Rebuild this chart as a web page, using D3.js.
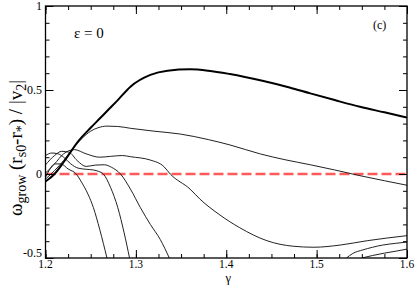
<!DOCTYPE html>
<html><head><meta charset="utf-8">
<script src="https://cdn.jsdelivr.net/npm/d3@7"></script>
<style>body{margin:0;background:#fff}svg{display:block}</style>
</head><body>
<svg id="c" width="415" height="286" font-family="'Liberation Serif', 'DejaVu Serif', serif"></svg>
<script>
// ---- data ----
const xTicks = [1.2, 1.3, 1.4, 1.5, 1.6];
const yTicks = [-0.5, 0, 0.5, 1];
const xTickLabels = ["1.2", "1.3", "1.4", "1.5", "1.6"];
const yTickLabels = ["-0.5", "0", "0.5", "1"];

const gammaThick = [1.2, 1.21, 1.22, 1.237, 1.25, 1.26, 1.27, 1.28, 1.294, 1.316, 1.335, 1.36, 1.38, 1.404, 1.44, 1.47, 1.493, 1.52, 1.548, 1.575, 1.6];
const valThick   = [-0.045, 0.0, 0.07, 0.2, 0.275, 0.33, 0.385, 0.44, 0.52, 0.59, 0.615, 0.623, 0.615, 0.595, 0.555, 0.515, 0.48, 0.44, 0.40, 0.367, 0.336];

const gammaA = [1.2, 1.21, 1.22, 1.23, 1.24, 1.25, 1.258, 1.268, 1.28, 1.294, 1.32, 1.349, 1.38, 1.404, 1.438, 1.465, 1.493, 1.52, 1.548, 1.575, 1.6];
const valA   = [-0.03, 0.02, 0.08, 0.15, 0.21, 0.255, 0.275, 0.285, 0.283, 0.272, 0.255, 0.238, 0.205, 0.173, 0.119, 0.085, 0.055, 0.024, -0.01, -0.04, -0.067];

const gammaB = [1.2, 1.21, 1.22, 1.232, 1.245, 1.26, 1.272, 1.285, 1.294, 1.316, 1.331, 1.338, 1.36, 1.371, 1.393, 1.415, 1.445, 1.474, 1.497, 1.526, 1.556, 1.6];
const valB   = [0.005, 0.06, 0.12, 0.145, 0.12, 0.1, 0.105, 0.11, 0.103, 0.083, 0.044, 0.0, -0.09, -0.15, -0.244, -0.32, -0.397, -0.43, -0.436, -0.423, -0.397, -0.367];

const gammaC = [1.2, 1.21, 1.218, 1.226, 1.235, 1.245, 1.255, 1.265, 1.273, 1.283, 1.294, 1.305, 1.316, 1.327, 1.337];
const valC   = [0.054, 0.11, 0.135, 0.13, 0.08, 0.045, 0.053, 0.055, 0.04, 0.0, -0.09, -0.2, -0.3, -0.39, -0.5];

const gammaD = [1.2, 1.207, 1.214, 1.22, 1.228, 1.236, 1.245, 1.253, 1.259, 1.264, 1.272, 1.28, 1.287, 1.293];
const valD   = [0.11, 0.125, 0.12, 0.1, 0.06, 0.035, 0.028, 0.024, 0.015, 0.0, -0.08, -0.2, -0.35, -0.5];

const gammaE = [1.2, 1.205, 1.21, 1.217, 1.225, 1.234, 1.24, 1.247, 1.253, 1.26, 1.268];
const valE   = [-0.02, 0.03, 0.06, 0.06, 0.03, 0.0, -0.05, -0.12, -0.2, -0.33, -0.5];

const gammaF = [1.533, 1.54, 1.551, 1.562, 1.573, 1.587, 1.6];
const valF   = [-0.5, -0.473, -0.452, -0.436, -0.423, -0.413, -0.405];

const gammaG = [1.55, 1.562, 1.575, 1.588, 1.6];
const valG   = [-0.5, -0.485, -0.471, -0.459, -0.447];

const zeroLine = [1.2, 1.6];

// ---- layout ----
const svg = d3.select("#c");
const L = 45.5, R = 407, T = 6, B = 258;
const x = d3.scaleLinear().domain([1.2, 1.6]).range([L, R]);
const y = d3.scaleLinear().domain([-0.5, 1]).range([B, T]);

svg.append("defs").append("clipPath").attr("id", "clip")
  .append("rect").attr("x", L).attr("y", T).attr("width", R - L).attr("height", B - T);

const g = svg.append("g").attr("clip-path", "url(#clip)");
const line = d3.line().x(d => x(d[0])).y(d => y(d[1])).curve(d3.curveMonotoneX);
const zip = (a, b) => a.map((v, i) => [v, b[i]]);

// red dashed zero line
g.append("path").datum(zip(zeroLine, [0, 0])).attr("d", line)
  .attr("fill", "none").attr("stroke", "#ff5a5a").attr("stroke-width", 2.4)
  .attr("stroke-dasharray", "10,4");

const thin = [[gammaA, valA], [gammaB, valB], [gammaC, valC], [gammaD, valD], [gammaE, valE], [gammaF, valF], [gammaG, valG]];
thin.forEach(([gx, vy]) => {
  g.append("path").datum(zip(gx, vy)).attr("d", line)
    .attr("fill", "none").attr("stroke", "#222").attr("stroke-width", 1);
});
g.append("path").datum(zip(gammaThick, valThick)).attr("d", line)
  .attr("fill", "none").attr("stroke", "#000").attr("stroke-width", 2);

// ---- axes ----
const minorX = d3.range(1.2, 1.6001, 0.025);
const minorY = d3.range(-0.5, 1.0001, 0.1);
function axisTicks(axisGen, tr, vals, size) {
  svg.append("g").attr("transform", tr)
    .call(axisGen.tickValues(vals).tickSize(size).tickFormat(""))
    .call(s => s.select(".domain").remove())
    .call(s => s.selectAll("line").attr("stroke", "#000").attr("stroke-width", 1));
}
axisTicks(d3.axisBottom(x), `translate(0,${B})`, minorX, -4);
axisTicks(d3.axisBottom(x), `translate(0,${B})`, xTicks, -8);
axisTicks(d3.axisTop(x), `translate(0,${T})`, minorX, -4);
axisTicks(d3.axisTop(x), `translate(0,${T})`, xTicks, -8);
axisTicks(d3.axisLeft(y), `translate(${L},0)`, minorY, -4);
axisTicks(d3.axisLeft(y), `translate(${L},0)`, yTicks, -8);
axisTicks(d3.axisRight(y), `translate(${R},0)`, minorY, -4);
axisTicks(d3.axisRight(y), `translate(${R},0)`, yTicks, -8);

svg.append("rect").attr("x", L).attr("y", T).attr("width", R - L).attr("height", B - T)
  .attr("fill", "none").attr("stroke", "#000").attr("stroke-width", 1.3);

const FF = "'Liberation Serif', 'DejaVu Serif', serif";
// tick labels
svg.append("g").selectAll("text").data(xTicks).join("text")
  .attr("font-family", FF)
  .attr("x", d => x(d)).attr("y", 268).attr("text-anchor", "middle")
  .attr("font-size", 11.5).text((d, i) => xTickLabels[i]);
svg.append("g").selectAll("text").data(yTicks).join("text")
  .attr("font-family", FF)
  .attr("x", 42).attr("y", d => d === -0.5 ? y(d) - 1 : y(d) + 4).attr("text-anchor", "end")
  .attr("font-size", 12).text((d, i) => yTickLabels[i]);

// axis titles
svg.append("text").attr("font-family", FF).attr("x", (L + R) / 2 + 2).attr("y", 282).attr("text-anchor", "middle")
  .attr("font-size", 12.5).text("γ");

const yl = svg.append("text").attr("font-family", FF).attr("transform", "translate(22,148) rotate(-90)")
  .attr("text-anchor", "middle").attr("font-size", 19);
yl.append("tspan").text("ω");
yl.append("tspan").attr("font-size", 14).attr("dy", 4).text("grow");
yl.append("tspan").attr("dy", -4).text(" (r");
yl.append("tspan").attr("font-size", 14).attr("dy", 4).text("s0");
yl.append("tspan").attr("dy", -4).text("-r");
yl.append("tspan").attr("font-size", 14).attr("dy", 4).text("*");
yl.append("tspan").attr("dy", -4).text(") / |v");
yl.append("tspan").attr("font-size", 14).attr("dy", 4).text("2");
yl.append("tspan").attr("dy", -4).text("|");

// annotations
svg.append("text").attr("font-family", FF).attr("x", 74).attr("y", 38).attr("font-size", 15).text("ε = 0");
svg.append("text").attr("font-family", FF).attr("x", 373).attr("y", 29).attr("font-size", 12).text("(c)");
</script>
</body></html>
